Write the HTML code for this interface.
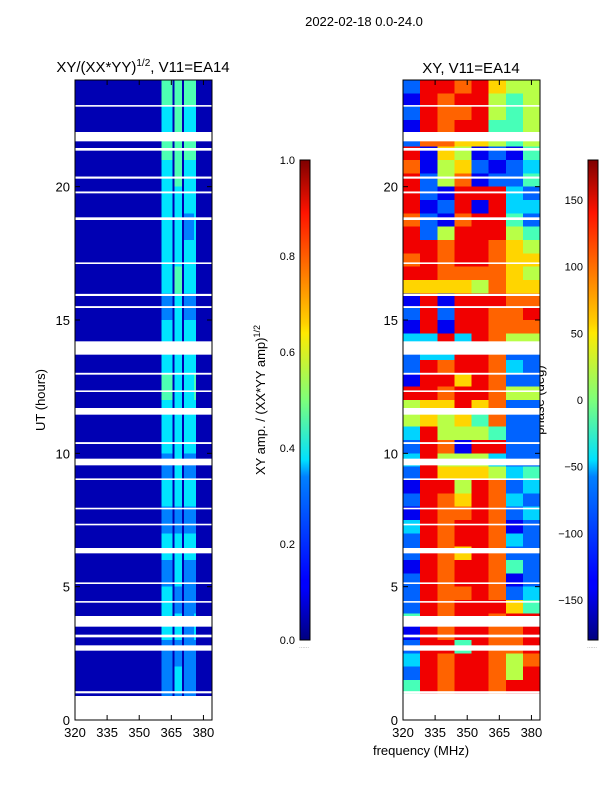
<!DOCTYPE html>
<html><head><meta charset="utf-8">
<style>
body{margin:0;background:#fff;}
svg{display:block;font-family:"Liberation Sans","DejaVu Sans",sans-serif;}
</style></head>
<body>
<svg id="fig" width="600" height="800" viewBox="0 0 600 800" xmlns="http://www.w3.org/2000/svg">
<rect width="600" height="800" fill="#fff"/>
<text x="364" y="26" font-size="13" text-anchor="middle">2022-02-18 0.0-24.0</text>
<text x="143" y="72" font-size="15" text-anchor="middle">XY/(XX*YY)<tspan font-size="10" dy="-6">1/2</tspan><tspan dy="6">, V11=EA14</tspan></text>
<text x="471" y="73" font-size="15" text-anchor="middle">XY, V11=EA14</text>
<text x="45" y="400" font-size="13" text-anchor="middle" transform="rotate(-90 45 400)">UT (hours)</text>
<text x="421" y="755" font-size="13" text-anchor="middle">frequency (MHz)</text>
<text x="265" y="400" font-size="13" text-anchor="middle" transform="rotate(-90 265 400)">XY amp. / (XX*YY amp)<tspan font-size="9" dy="-5">1/2</tspan></text>
<text x="544" y="400" font-size="13" text-anchor="middle" transform="rotate(-90 544 400)">phase (deg)</text>
<g id="amp" shape-rendering="crispEdges"></g>
<g id="ph" shape-rendering="crispEdges"></g>
<g id="axes"></g>
<defs>
<linearGradient id="jet" x1="0" y1="1" x2="0" y2="0">
<stop offset="0" stop-color="#00007f"/><stop offset="0.11" stop-color="#0000ff"/><stop offset="0.125" stop-color="#0000ff"/>
<stop offset="0.34" stop-color="#0080ff"/><stop offset="0.375" stop-color="#00e0ff"/><stop offset="0.5" stop-color="#7dff7a"/>
<stop offset="0.64" stop-color="#ffea00"/><stop offset="0.66" stop-color="#ffd000"/><stop offset="0.89" stop-color="#ff1300"/><stop offset="1" stop-color="#7f0000"/>
</linearGradient>
</defs>
<rect x="300" y="160" width="10" height="480" fill="url(#jet)" stroke="#000" stroke-width="1"/>
<rect x="588" y="160" width="10" height="480" fill="url(#jet)" stroke="#000" stroke-width="1"/>
<text x="304" y="648" font-size="6" fill="#999" text-anchor="middle">......</text>
<text x="592" y="648" font-size="6" fill="#999" text-anchor="middle">......</text>
</svg>
<script>
// ---- data ----
const ampFreqEdges = [320,360.5,365.5,366.5,370,371,375.5,376.5,380,384];
// amplitude per hour row (row 0 = 23-24 h, top) digit/10 (+0.05), '-' = no data
const ampRows = [
"040404400","030403300","040404400","030403300","030303300","030302300",
"030303300","030403300","020302200","030303300","030303300","040303400",
"030303300","030303300","020302200","030303300","020202200","030303300",
"020302200","030202200","030302300","020202200","020302200","020202200"];
const phaseFreqEdges = [320,328,336,344,352,360,368,376,384];
// phase per half-hour row (row 0 = 23.5-24 h); digit d -> -180 + 40*d
const phaseRows = [
"28878655","18788545","28778545","18788445","27766545","81651214",
"71562123","82571224","82188832","81281833","72178842","82588854",
"88788765","78788766","88777765","66665766","18188877","28288778",
"18188777","33838755","23388722","28788732","18868722","88788755",
"56686722","56564722","38555422","28718822","38555322","28666534",
"18858723","28768732","18778723","38788712","28788732","28768722",
"18788742","28788712","28778723","28788864","48788788","18788778",
"28848778","38788757","28788758","48788788","--------","--------"];
// flagged time ranges (hours)
const gapStarts = [21.7,21.35,18.75,13.7,11.45,9.55,6.25,3.5,2.6,0,20.3,19.75,17.1,15.9,15.45,12.95,12.3,10.35,9.0,7.9,7.3,5.1,4.4,3.1,1.0,23.0];
const gapEnds   = [22.05,21.45,18.85,14.2,11.7,9.8,6.45,3.9,2.8,0.9,20.38,19.82,17.16,15.98,15.52,13.02,12.36,10.42,9.06,7.96,7.36,5.16,4.46,3.2,1.08,23.06];
const yTicks = [0,5,10,15,20];
const xTicks = [320,335,350,365,380];
const ampCbTicks = [0.0,0.2,0.4,0.6,0.8,1.0];
const phCbTicks = [-150,-100,-50,0,50,100,150];

// ---- axes ----
const NS="http://www.w3.org/2000/svg";
const Y0=720, Y1=80, T1=24;
const yScale = t => Y0 - t/T1*(Y0-Y1);
const panels = {amp:{x0:75,x1:212}, ph:{x0:403,x1:540}};
const xScale = (p,f) => panels[p].x0 + (f-320)/(384-320)*(panels[p].x1-panels[p].x0);
function jet(v){v=Math.max(0,Math.min(1,v));
 const c=x=>Math.max(0,Math.min(1,x));
 const r=c(Math.min(4*v-1.5,-4*v+4.5)),g=c(Math.min(4*v-0.5,-4*v+3.5)),b=c(Math.min(4*v+0.5,-4*v+2.5));
 return `rgb(${Math.round(r*255)},${Math.round(g*255)},${Math.round(b*255)})`;}
function mk(parent,tag,attrs){const e=document.createElementNS(NS,tag);for(const k in attrs)e.setAttribute(k,attrs[k]);parent.appendChild(e);return e;}

const ga=document.getElementById('amp');
ampRows.forEach((row,r)=>{
 const tTop=T1-r, tBot=T1-r-1;
 for(let c=0;c<row.length;c++){
  const ch=row[c]; if(ch==='-')continue;
  const v=+ch/10+0.05;
  const x=xScale('amp',ampFreqEdges[c]), x2=xScale('amp',ampFreqEdges[c+1]);
  const el=mk(ga,'rect',{x:x,y:yScale(tTop),width:x2-x,height:yScale(tBot)-yScale(tTop),fill:jet(v)});
  
  
 }});
const gp=document.getElementById('ph');
phaseRows.forEach((row,r)=>{
 const tTop=T1-r*0.5, tBot=tTop-0.5;
 for(let c=0;c<row.length;c++){
  const ch=row[c]; if(ch==='-')continue;
  const deg=-180+40*(+ch);
  const x=xScale('ph',phaseFreqEdges[c]), x2=xScale('ph',phaseFreqEdges[c+1]);
  const el=mk(gp,'rect',{x:x,y:yScale(tTop),width:x2-x,height:yScale(tBot)-yScale(tTop),fill:jet((deg+180)/360)});
  
  
 }});
const ax=document.getElementById('axes');
['amp','ph'].forEach(p=>{
 gapStarts.forEach((s,i)=>{
  const el=mk(ax,'rect',{x:panels[p].x0,y:yScale(gapEnds[i]),width:panels[p].x1-panels[p].x0,height:yScale(s)-yScale(gapEnds[i]),fill:'#fff'});
  
  
 });
 const fr=mk(ax,'rect',{x:panels[p].x0,y:Y1,width:panels[p].x1-panels[p].x0,height:Y0-Y1,fill:'none',stroke:'#000','stroke-width':1});
 
 
 xTicks.forEach(f=>{const x=xScale(p,f);
  mk(ax,'line',{x1:x,x2:x,y1:Y0,y2:Y0-5,stroke:'#000'});mk(ax,'line',{x1:x,x2:x,y1:Y1,y2:Y1+5,stroke:'#000'});
  const t=mk(ax,'text',{x:x,y:Y0+17,'font-size':13,'text-anchor':'middle'});t.textContent=f;
  
  });
 yTicks.forEach(v=>{const y=yScale(v);
  mk(ax,'line',{x1:panels[p].x0,x2:panels[p].x0+5,y1:y,y2:y,stroke:'#000'});mk(ax,'line',{x1:panels[p].x1,x2:panels[p].x1-5,y1:y,y2:y,stroke:'#000'});
  const t=mk(ax,'text',{x:panels[p].x0-5,y:y+5,'font-size':13,'text-anchor':'end'});t.textContent=v;
  
  });
});
function cbTicks(ticks,lo,hi,x,fmt){ticks.forEach(v=>{const y=640-(v-lo)/(hi-lo)*480;
 mk(ax,'line',{x1:x,x2:x+3,y1:y,y2:y,stroke:'#000'});mk(ax,'line',{x1:x+10,x2:x+7,y1:y,y2:y,stroke:'#000'});
 const t=mk(ax,'text',{x:x-5,y:y+4,'font-size':11,'text-anchor':'end'});t.textContent=fmt(v);
 
 });}
cbTicks(ampCbTicks,0,1,300,v=>v.toFixed(1));
cbTicks(phCbTicks,-180,180,588,v=>v<0?'\u2212'+(-v):String(v));
</script>
</body></html>
